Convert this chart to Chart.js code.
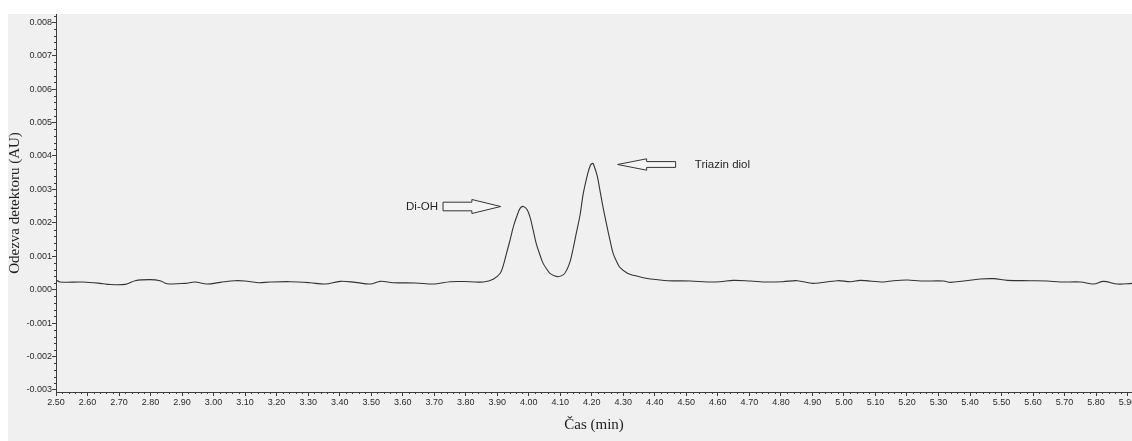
<!DOCTYPE html>
<html>
<head>
<meta charset="utf-8">
<script src="https://cdn.jsdelivr.net/npm/chart.js@4.4.1/dist/chart.umd.min.js"></script>
<style>
  html, body { margin: 0; padding: 0; background: #fff; overflow: hidden; }
  #wrap { position: absolute; left: 8px; top: 14px; width: 1124px; height: 427px; background: #f0f0f0; }
</style>
</head>
<body>
<div id="wrap"><canvas id="chart"></canvas></div>
<script>
// retention time (min)
const times = [
  2.500, 2.513, 2.586, 2.640, 2.662, 2.720, 2.751, 2.798, 2.830, 2.852,
  2.910, 2.941, 2.979, 3.021, 3.068, 3.100, 3.141, 3.179, 3.243, 3.306,
  3.354, 3.402, 3.449, 3.497, 3.529, 3.570, 3.640, 3.703, 3.751, 3.814,
  3.856, 3.887, 3.910, 3.919, 3.929, 3.941, 3.951, 3.963, 3.973, 3.983,
  3.995, 4.005, 4.014, 4.024, 4.037, 4.046, 4.059, 4.068, 4.090, 4.110,
  4.122, 4.132, 4.141, 4.151, 4.163, 4.173, 4.186, 4.195, 4.202, 4.205,
  4.217, 4.227, 4.237, 4.249, 4.259, 4.268, 4.281, 4.290, 4.313, 4.332,
  4.363, 4.386, 4.440, 4.513, 4.567, 4.608, 4.649, 4.703, 4.757, 4.806,
  4.852, 4.903, 4.979, 5.021, 5.052, 5.125, 5.157, 5.202, 5.243, 5.316,
  5.338, 5.379, 5.433, 5.475, 5.519, 5.592, 5.646, 5.687, 5.751, 5.792,
  5.824, 5.868, 5.914,
];
// detector response (AU)
const response = [
  0.00029, 0.00023, 0.00023, 0.00019, 0.00016, 0.00016, 0.00027, 0.00030, 0.00027, 0.00018,
  0.00019, 0.00023, 0.00017, 0.00022, 0.00027, 0.00026, 0.00021, 0.00023, 0.00024, 0.00021,
  0.00017, 0.00025, 0.00022, 0.00017, 0.00025, 0.00021, 0.00020, 0.00017, 0.00024, 0.00024,
  0.00023, 0.00031, 0.00050, 0.00072, 0.00107, 0.00150, 0.00188, 0.00222, 0.00244, 0.00249,
  0.00239, 0.00214, 0.00178, 0.00137, 0.00100, 0.00078, 0.00059, 0.00048, 0.00039, 0.00045,
  0.00062, 0.00087, 0.00124, 0.00170, 0.00225, 0.00288, 0.00343, 0.00371, 0.00378, 0.00376,
  0.00341, 0.00291, 0.00240, 0.00186, 0.00143, 0.00108, 0.00080, 0.00066, 0.00049, 0.00043,
  0.00036, 0.00032, 0.00027, 0.00026, 0.00023, 0.00024, 0.00028, 0.00026, 0.00023, 0.00024,
  0.00027, 0.00019, 0.00027, 0.00024, 0.00028, 0.00023, 0.00027, 0.00029, 0.00026, 0.00026,
  0.00022, 0.00026, 0.00032, 0.00033, 0.00028, 0.00027, 0.00026, 0.00023, 0.00023, 0.00017,
  0.00025, 0.00017, 0.00019,
];

const xRange = [2.5, 5.914];
const yRange = [-0.00306, 0.008247];
const xStep = 0.1, yStep = 0.001, minorDiv = 5;

// peak labels with arrows (data units)
const notes = [
  { text: "Di-OH", tipX: 3.911, tailX: 3.728, textX: 3.712, y: 0.00251, shaft: 4.3, head: 7 },
  { text: "Triazin diol", tipX: 4.282, tailX: 4.466, textX: 4.527, y: 0.00375, shaft: 2.9, head: 5.7 },
];

const axisColor = "#3c3c3c";
const sans = "'Liberation Sans', Arial, sans-serif";
const serif = "'Liberation Serif', 'Times New Roman', serif";

// small ticks between the labelled ones
const minorTicks = {
  id: "minorTicks",
  afterDraw(chart) {
    const { ctx, chartArea, scales } = chart;
    ctx.save();
    ctx.strokeStyle = axisColor;
    ctx.lineWidth = 1;
    ctx.beginPath();
    const xs = scales.x, ys = scales.y;
    for (let k = 0; ; k++) {
      const v = xRange[0] + (k * xStep) / minorDiv;
      if (v > xRange[1]) break;
      if (k % minorDiv === 0) continue;
      const px = Math.round(xs.getPixelForValue(v)) + 0.5;
      ctx.moveTo(px, chartArea.bottom);
      ctx.lineTo(px, chartArea.bottom + 2);
    }
    const y0 = Math.ceil(yRange[0] / yStep) * yStep;
    for (let k = -minorDiv; ; k++) {
      const v = y0 + (k * yStep) / minorDiv;
      if (v > yRange[1]) break;
      if (v < yRange[0] || (k % minorDiv + minorDiv) % minorDiv === 0) continue;
      const py = Math.round(ys.getPixelForValue(v)) + 0.5;
      ctx.moveTo(chartArea.left - 2, py);
      ctx.lineTo(chartArea.left, py);
    }
    ctx.stroke();
    ctx.restore();
  },
};

const arrowNotes = {
  id: "arrowNotes",
  afterDraw(chart) {
    const { ctx, scales } = chart;
    const xs = scales.x, ys = scales.y;
    ctx.save();
    notes.forEach((n) => {
      const tip = xs.getPixelForValue(n.tipX);
      const tail = xs.getPixelForValue(n.tailX);
      const y = Math.round(ys.getPixelForValue(n.y)) + 0.5;
      const dir = Math.sign(tip - tail);
      const base = tip - dir * Math.abs(tip - tail) / 2;
      ctx.beginPath();
      ctx.moveTo(tail, y - n.shaft);
      ctx.lineTo(base, y - n.shaft);
      ctx.lineTo(base, y - n.head);
      ctx.lineTo(tip, y);
      ctx.lineTo(base, y + n.head);
      ctx.lineTo(base, y + n.shaft);
      ctx.lineTo(tail, y + n.shaft);
      ctx.closePath();
      ctx.fillStyle = "#f4f4f4";
      ctx.fill();
      ctx.strokeStyle = "#333";
      ctx.lineWidth = 1;
      ctx.stroke();
      ctx.fillStyle = "#262626";
      ctx.font = "11.5px " + sans;
      ctx.textBaseline = "middle";
      ctx.textAlign = dir > 0 ? "right" : "left";
      ctx.fillText(n.text, xs.getPixelForValue(n.textX), y);
    });
    ctx.restore();
  },
};

new Chart(document.getElementById("chart"), {
  type: "line",
  data: {
    datasets: [
      {
        data: times.map((t, i) => ({ x: t, y: response[i] })),
        borderColor: "#333",
        borderWidth: 1.1,
        pointRadius: 0,
        tension: 0.35,
        fill: false,
      },
    ],
  },
  options: {
    responsive: true,
    maintainAspectRatio: false,
    animation: false,
    events: [],
    layout: { padding: 0 },
    plugins: { legend: { display: false }, tooltip: { enabled: false } },
    scales: {
      x: {
        type: "linear",
        min: xRange[0],
        max: xRange[1],
        border: { color: axisColor, width: 1 },
        grid: { drawOnChartArea: false, tickLength: 4, tickColor: axisColor },
        ticks: {
          stepSize: xStep,
          includeBounds: false,
          autoSkip: false,
          maxRotation: 0,
          padding: 1,
          color: "#2b2b2b",
          font: { family: sans, size: 9 },
          callback: (v) => Number(v).toFixed(2),
        },
        title: {
          display: true,
          text: "Čas (min)",
          color: "#1e1e1e",
          font: { family: serif, size: 15, lineHeight: 1.2 },
          padding: { top: 0, bottom: 7 },
        },
        afterFit: (s) => {
          s.height = 49;
          s.paddingRight = 0;
        },
      },
      y: {
        min: yRange[0],
        max: yRange[1],
        border: { color: axisColor, width: 1 },
        grid: { drawOnChartArea: false, tickLength: 4, tickColor: axisColor },
        ticks: {
          stepSize: yStep,
          includeBounds: false,
          padding: 0,
          color: "#2b2b2b",
          font: { family: sans, size: 9 },
          callback: (v) => Number(v).toFixed(3),
        },
        title: {
          display: true,
          text: "Odezva detektoru (AU)",
          color: "#1e1e1e",
          font: { family: serif, size: 15, lineHeight: 1 },
          padding: { top: 0, bottom: 0 },
        },
        afterFit: (s) => {
          s.width = 48;
          s.paddingTop = 0;
          s.paddingBottom = 0;
        },
      },
    },
  },
  plugins: [minorTicks, arrowNotes],
});
</script>
</body>
</html>
